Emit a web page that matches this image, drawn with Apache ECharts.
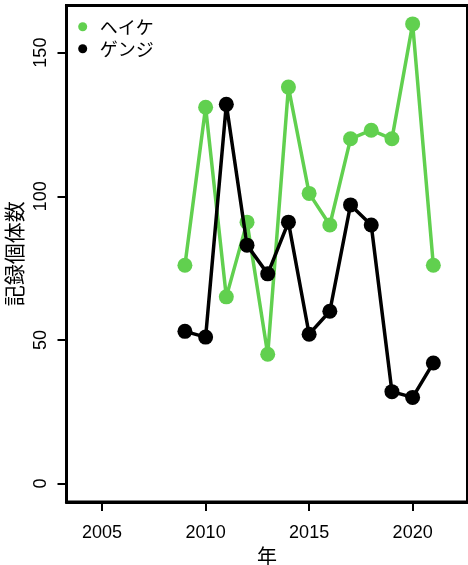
<!DOCTYPE html>
<html>
<head>
<meta charset="utf-8">
<script src="https://cdn.jsdelivr.net/npm/echarts@6/dist/echarts.min.js"></script>
<style>
html,body{margin:0;padding:0;background:#fff;}
#chart{width:468px;height:565px;}
</style>
</head>
<body>
<div id="chart"></div>
<script>
const years = [2009, 2010, 2011, 2012, 2013, 2014, 2015, 2016, 2017, 2018, 2019, 2020, 2021];
const heike = [76, 131, 65, 91, 45, 138, 101, 90, 120, 123, 120, 160, 76];
const genji = [53, 51, 132, 83, 73, 91, 52, 60, 97, 90, 32, 30, 42];
const xTicks = [2005, 2010, 2015, 2020];
const yTicks = [0, 50, 100, 150];
const seriesNames = ['ヘイケ', 'ゲンジ'];
const colors = ['#61D04F', '#000000'];

const pairs = (ys) => years.map((x, i) => [x, ys[i]]);
const font = '"Liberation Sans", Arial, "Noto Sans CJK JP", sans-serif';

const chart = echarts.init(document.getElementById('chart'), null, {renderer: 'canvas'});
chart.setOption({
  animation: false,
  backgroundColor: '#fff',
  textStyle: {fontFamily: font},
  grid: {left: 66.5, right: 0.5, top: 5.5, bottom: 63, show: true, borderColor: '#000', borderWidth: 3,
         backgroundColor: 'transparent', containLabel: false, outerBoundsMode: 'none'},
  legend: {
    orient: 'vertical', left: 78.2, top: 15.7, padding: 0, itemGap: 0,
    icon: 'circle', itemWidth: 24, itemHeight: 9,
    textStyle: {fontSize: 18, color: '#000', lineHeight: 22, fontFamily: '"Noto Sans CJK JP", sans-serif'},
    data: seriesNames
  },
  xAxis: {
    type: 'value', min: 2003.28, max: 2022.65,
    name: '年', nameLocation: 'middle', nameGap: 38,
    nameTextStyle: {fontSize: 20, color: '#000', fontFamily: '"Noto Sans CJK JP", sans-serif'},
    axisLine: {show: true, onZero: false, lineStyle: {color: '#000', width: 3}},
    axisTick: {show: true, length: 9, lineStyle: {color: '#000', width: 2}, customValues: xTicks},
    axisLabel: {fontSize: 18, color: '#000', margin: 22, customValues: xTicks, formatter: v => String(v)},
    splitLine: {show: false}
  },
  yAxis: {
    type: 'value', min: -6.4, max: 166.4,
    name: '記録個体数', nameLocation: 'middle', nameGap: 35, nameRotate: 90,
    nameTextStyle: {fontSize: 21, color: '#000', fontFamily: '"Noto Sans CJK JP", sans-serif'},
    axisLine: {show: true, onZero: false, lineStyle: {color: '#000', width: 3}},
    axisTick: {show: true, length: 9, lineStyle: {color: '#000', width: 2}, customValues: yTicks},
    axisLabel: {fontSize: 18, color: '#000', margin: 16, rotate: 90, customValues: yTicks, formatter: v => String(v)},
    splitLine: {show: false}
  },
  series: [
    {name: seriesNames[0], type: 'line', data: pairs(heike), color: colors[0], z: 2,
     symbol: 'circle', symbolSize: 15, showAllSymbol: true,
     lineStyle: {width: 3.5, color: colors[0]}, itemStyle: {color: colors[0]}},
    {name: seriesNames[1], type: 'line', data: pairs(genji), color: colors[1], z: 3,
     symbol: 'circle', symbolSize: 15, showAllSymbol: true,
     lineStyle: {width: 3.5, color: colors[1]}, itemStyle: {color: colors[1]}}
  ]
});
</script>
</body>
</html>
